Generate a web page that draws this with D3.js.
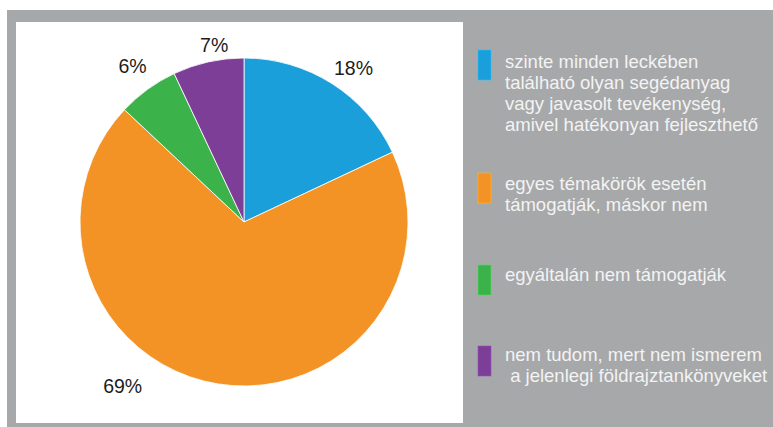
<!DOCTYPE html>
<html>
<head>
<meta charset="utf-8">
<script src="https://cdn.jsdelivr.net/npm/d3@7/dist/d3.min.js"></script>
<style>
  html, body { margin: 0; padding: 0; background: #ffffff; }
  svg { display: block; }
</style>
</head>
<body>
<svg id="chart" width="773" height="427"></svg>
<script>
// ---- data ----
const categories = [
  ["szinte minden leckében", "található olyan segédanyag", "vagy javasolt tevékenység,", "amivel hatékonyan fejleszthető"],
  ["egyes témakörök esetén", "támogatják, máskor nem"],
  ["egyáltalán nem támogatják"],
  ["nem tudom, mert nem ismerem", "\u00a0a jelenlegi földrajztankönyveket"]
];
const values = [18, 69, 6, 7];
const valueLabels = ["18%", "69%", "6%", "7%"];
const colors = ["#1a9fda", "#f39325", "#3cb24a", "#7d3e98"];

// ---- layout ----
const W = 773, H = 427;
const svg = d3.select("#chart");

// outer gray frame
svg.append("rect").attr("x", 7).attr("y", 10).attr("width", W - 7).attr("height", H - 10)
  .attr("fill", "#a7a8aa");
// white chart panel
svg.append("rect").attr("x", 16).attr("y", 22).attr("width", 447).attr("height", 401)
  .attr("fill", "#ffffff");

const cx = 244, cy = 222, R = 164;
const pie = d3.pie().sort(null).value(d => d).startAngle(0).endAngle(2 * Math.PI);
const arcs = pie(values);
const arc = d3.arc().innerRadius(0).outerRadius(R);

const g = svg.append("g").attr("transform", `translate(${cx},${cy})`);
g.selectAll("path.slice").data(arcs).join("path")
  .attr("class", "slice")
  .attr("d", arc)
  .attr("fill", (d, i) => colors[i])
  .attr("stroke", "#ffffff")
  .attr("stroke-width", 0.8);

// label placement: shift (degrees) and radius relative to slice middle
const labelPlace = [
  { shift: 3, r: 189 },
  { shift: 27.5, r: 204 },
  { shift: 0.5, r: 192 },
  { shift: 3, r: 179 }
];
g.selectAll("text.pct").data(arcs).join("text")
  .attr("class", "pct")
  .each(function (d, i) {
    const a = (d.startAngle + d.endAngle) / 2 + labelPlace[i].shift * Math.PI / 180;
    const r = labelPlace[i].r;
    d3.select(this)
      .attr("x", Math.sin(a) * r)
      .attr("y", -Math.cos(a) * r);
  })
  .attr("dy", "0.35em")
  .attr("text-anchor", "middle")
  .attr("font-family", "'Liberation Sans', Arial, Helvetica, sans-serif")
  .attr("font-size", 19.5)
  .attr("fill", "#1c1c1c")
  .text((d, i) => valueLabels[i]);

// ---- legend ----
const legendTop = [50, 173, 265, 346];
const legendBase = [68, 190, 281, 361];
const lineH = 21;
const lg = svg.append("g");
categories.forEach((lines, i) => {
  lg.append("rect")
    .attr("x", 478).attr("y", legendTop[i])
    .attr("width", 13).attr("height", 30)
    .attr("fill", colors[i])
    .attr("stroke", d3.color(colors[i]).brighter(0.6))
    .attr("stroke-width", 0.6);
  const t = lg.append("text")
    .attr("font-family", "'Liberation Sans', Arial, Helvetica, sans-serif")
    .attr("font-size", 18.5)
    .attr("fill", "#f3f3f3");
  lines.forEach((ln, j) => {
    t.append("tspan").attr("x", 505).attr("y", legendBase[i] + j * lineH).text(ln);
  });
});
</script>
</body>
</html>
